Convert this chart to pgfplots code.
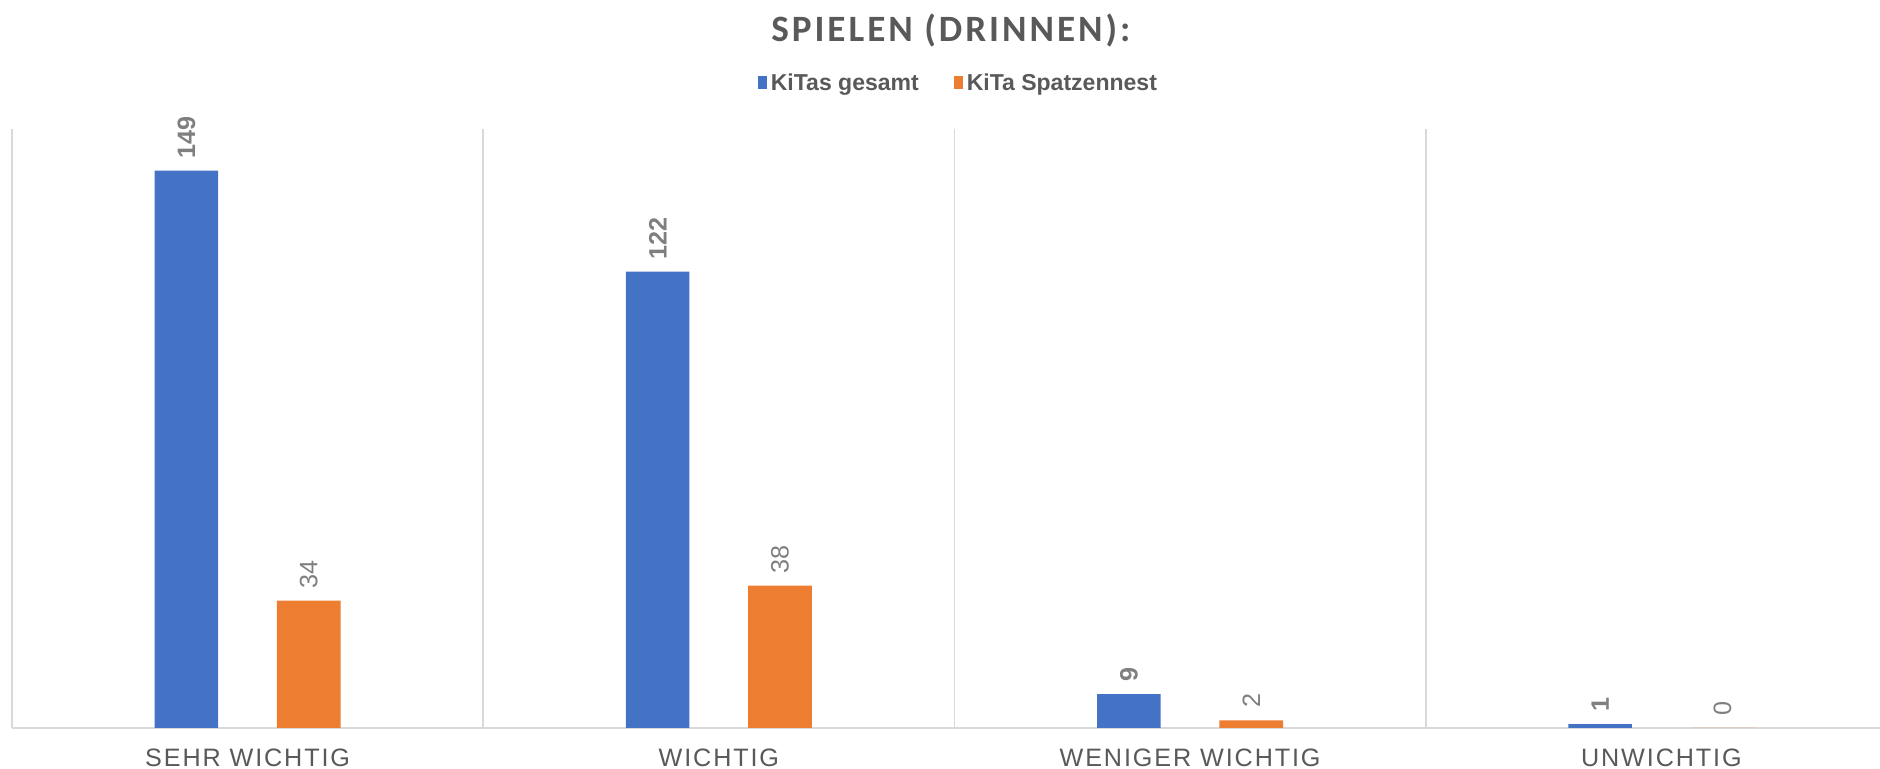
\documentclass[border=0pt]{standalone}
\usepackage{fontspec}
\setmainfont{Liberation Sans}
\newfontfamily\titlefont[LetterSpace=8]{Carlito}
\newfontfamily\catfont[LetterSpace=7.5]{Liberation Sans}
\usepackage{pgfplots}
\pgfplotsset{compat=1.18}
\definecolor{cblue}{HTML}{4472C4}
\definecolor{corange}{HTML}{ED7D31}
\definecolor{txtgray}{HTML}{595959}
\definecolor{lblgray}{HTML}{7F7F7F}
\definecolor{gridgray}{HTML}{D9D9D9}
\begin{document}
\begin{tikzpicture}
\useasboundingbox (0,0) rectangle (784pt,320.5pt);
\begin{axis}[
  at={(5pt,17pt)}, anchor=south west,
  width=779pt, height=249.5pt, scale only axis,
  xmin=-0.5, xmax=3.464, ymin=0, ymax=160,
  axis x line=bottom, axis y line=none,
  x axis line style={gridgray, line width=1pt, -},
  xtick={0,1,2,3},
  xticklabels={SEHR WICHTIG, WICHTIG, WENIGER WICHTIG, UNWICHTIG},
  major tick length=0pt, minor tick length=0pt,
  xticklabel style={font=\catfont\fontsize{10.5}{12}\selectfont, text=txtgray, anchor=base, yshift=-16pt},
  minor xtick={-0.5,0.5,1.5,2.5},
  xminorgrids, minor grid style={gridgray, line width=0.75pt},
  ybar, bar width=26.5pt,
  /pgf/number format/assume math mode=true,
  legend columns=2,
  legend style={at={(0.507,1.076)}, anchor=center, draw=none, fill=none,
    font=\bfseries\fontsize{9.6}{11}\selectfont, text=txtgray,
    /tikz/every even column/.append style={column sep=13pt},
    nodes={inner sep=1.5pt}},
  legend image code/.code={\fill[#1] (0pt,-2pt) rectangle (4pt,3.5pt);},
  nodes near coords,
  every node near coord/.append style={rotate=90, anchor=west, inner xsep=5pt, inner ysep=0pt, text=lblgray},
]
\addplot[fill=cblue, draw=none, bar shift=-25.5pt,
  every node near coord/.append style={font=\bfseries\fontsize{10.5}{12}\selectfont}]
  coordinates {(0,149) (1,122) (2,9) (3,1)};
\addplot[fill=corange, draw=none, bar shift=25.5pt,
  every node near coord/.append style={font=\fontsize{10.5}{12}\selectfont}]
  coordinates {(0,34) (1,38) (2,2) (3,0)};
\legend{KiTas gesamt, KiTa Spatzennest}
\end{axis}
\node[font=\titlefont\bfseries\fontsize{15.5}{18}\selectfont, text=txtgray, anchor=base] at (396.5pt,303pt) {SPIELEN (DRINNEN):};
\end{tikzpicture}
\end{document}
